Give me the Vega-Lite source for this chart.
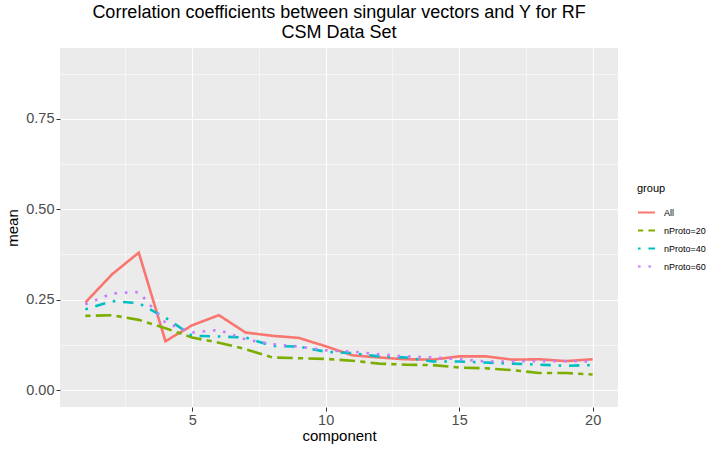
{
  "$schema": "https://vega.github.io/schema/vega-lite/v6.json",
  "autosize": {"type": "none"},
  "padding": {"left": 60, "top": 48, "right": 95, "bottom": 43},
  "width": 558,
  "height": 359,
  "background": "white",
  "title": {
    "text": ["Correlation coefficients between singular vectors and Y for RF", "CSM Data Set"],
    "anchor": "middle",
    "frame": "group",
    "font": "Liberation Sans",
    "fontSize": 18,
    "fontWeight": "normal",
    "lineHeight": 20,
    "color": "black",
    "offset": 6
  },
  "config": {
    "font": "Liberation Sans",
    "view": {"fill": "#EBEBEB", "stroke": null},
    "axis": {
      "domain": false,
      "gridColor": "white",
      "tickColor": "#333333",
      "tickSize": 4,
      "labelColor": "#4D4D4D",
      "labelFontSize": 14.5,
      "titleFontSize": 15,
      "titleFontWeight": "normal",
      "titleColor": "black"
    }
  },
  "data": {
    "values": [
      {"component": 1, "mean": 0.242, "group": "All"},
      {"component": 2, "mean": 0.32, "group": "All"},
      {"component": 3, "mean": 0.38, "group": "All"},
      {"component": 4, "mean": 0.135, "group": "All"},
      {"component": 5, "mean": 0.179, "group": "All"},
      {"component": 6, "mean": 0.207, "group": "All"},
      {"component": 7, "mean": 0.159, "group": "All"},
      {"component": 8, "mean": 0.15, "group": "All"},
      {"component": 9, "mean": 0.144, "group": "All"},
      {"component": 10, "mean": 0.121, "group": "All"},
      {"component": 11, "mean": 0.096, "group": "All"},
      {"component": 12, "mean": 0.09, "group": "All"},
      {"component": 13, "mean": 0.085, "group": "All"},
      {"component": 14, "mean": 0.084, "group": "All"},
      {"component": 15, "mean": 0.093, "group": "All"},
      {"component": 16, "mean": 0.093, "group": "All"},
      {"component": 17, "mean": 0.084, "group": "All"},
      {"component": 18, "mean": 0.085, "group": "All"},
      {"component": 19, "mean": 0.08, "group": "All"},
      {"component": 20, "mean": 0.085, "group": "All"},
      {"component": 1, "mean": 0.205, "group": "nProto=20"},
      {"component": 2, "mean": 0.207, "group": "nProto=20"},
      {"component": 3, "mean": 0.194, "group": "nProto=20"},
      {"component": 4, "mean": 0.171, "group": "nProto=20"},
      {"component": 5, "mean": 0.145, "group": "nProto=20"},
      {"component": 6, "mean": 0.131, "group": "nProto=20"},
      {"component": 7, "mean": 0.113, "group": "nProto=20"},
      {"component": 8, "mean": 0.09, "group": "nProto=20"},
      {"component": 9, "mean": 0.088, "group": "nProto=20"},
      {"component": 10, "mean": 0.086, "group": "nProto=20"},
      {"component": 11, "mean": 0.081, "group": "nProto=20"},
      {"component": 12, "mean": 0.073, "group": "nProto=20"},
      {"component": 13, "mean": 0.07, "group": "nProto=20"},
      {"component": 14, "mean": 0.069, "group": "nProto=20"},
      {"component": 15, "mean": 0.062, "group": "nProto=20"},
      {"component": 16, "mean": 0.06, "group": "nProto=20"},
      {"component": 17, "mean": 0.055, "group": "nProto=20"},
      {"component": 18, "mean": 0.047, "group": "nProto=20"},
      {"component": 19, "mean": 0.047, "group": "nProto=20"},
      {"component": 20, "mean": 0.043, "group": "nProto=20"},
      {"component": 1, "mean": 0.223, "group": "nProto=40"},
      {"component": 2, "mean": 0.246, "group": "nProto=40"},
      {"component": 3, "mean": 0.24, "group": "nProto=40"},
      {"component": 4, "mean": 0.2, "group": "nProto=40"},
      {"component": 5, "mean": 0.15, "group": "nProto=40"},
      {"component": 6, "mean": 0.148, "group": "nProto=40"},
      {"component": 7, "mean": 0.145, "group": "nProto=40"},
      {"component": 8, "mean": 0.122, "group": "nProto=40"},
      {"component": 9, "mean": 0.12, "group": "nProto=40"},
      {"component": 10, "mean": 0.106, "group": "nProto=40"},
      {"component": 11, "mean": 0.102, "group": "nProto=40"},
      {"component": 12, "mean": 0.093, "group": "nProto=40"},
      {"component": 13, "mean": 0.09, "group": "nProto=40"},
      {"component": 14, "mean": 0.079, "group": "nProto=40"},
      {"component": 15, "mean": 0.079, "group": "nProto=40"},
      {"component": 16, "mean": 0.076, "group": "nProto=40"},
      {"component": 17, "mean": 0.073, "group": "nProto=40"},
      {"component": 18, "mean": 0.07, "group": "nProto=40"},
      {"component": 19, "mean": 0.067, "group": "nProto=40"},
      {"component": 20, "mean": 0.069, "group": "nProto=40"},
      {"component": 1, "mean": 0.237, "group": "nProto=60"},
      {"component": 2, "mean": 0.267, "group": "nProto=60"},
      {"component": 3, "mean": 0.271, "group": "nProto=60"},
      {"component": 4, "mean": 0.186, "group": "nProto=60"},
      {"component": 5, "mean": 0.159, "group": "nProto=60"},
      {"component": 6, "mean": 0.166, "group": "nProto=60"},
      {"component": 7, "mean": 0.14, "group": "nProto=60"},
      {"component": 8, "mean": 0.127, "group": "nProto=60"},
      {"component": 9, "mean": 0.12, "group": "nProto=60"},
      {"component": 10, "mean": 0.11, "group": "nProto=60"},
      {"component": 11, "mean": 0.106, "group": "nProto=60"},
      {"component": 12, "mean": 0.099, "group": "nProto=60"},
      {"component": 13, "mean": 0.093, "group": "nProto=60"},
      {"component": 14, "mean": 0.09, "group": "nProto=60"},
      {"component": 15, "mean": 0.085, "group": "nProto=60"},
      {"component": 16, "mean": 0.079, "group": "nProto=60"},
      {"component": 17, "mean": 0.079, "group": "nProto=60"},
      {"component": 18, "mean": 0.08, "group": "nProto=60"},
      {"component": 19, "mean": 0.08, "group": "nProto=60"},
      {"component": 20, "mean": 0.079, "group": "nProto=60"}
    ]
  },
  "mark": {"type": "line", "strokeWidth": 2.6, "strokeCap": "butt"},
  "encoding": {
    "x": {
      "field": "component",
      "type": "quantitative",
      "title": "component",
      "scale": {"domain": [0.05, 20.95], "nice": false, "zero": false},
      "axis": {
        "values": [2.5, 5, 7.5, 10, 12.5, 15, 17.5, 20],
        "format": "d",
        "labelExpr": "datum.value % 5 == 0 ? datum.label : ''",
        "tickOpacity": {"condition": {"test": "datum.value % 5 != 0", "value": 0}, "value": 1},
        "gridWidth": {"condition": {"test": "datum.value % 5 != 0", "value": 0.55}, "value": 1.1},
        "labelPadding": 2,
        "titlePadding": 2
      }
    },
    "y": {
      "field": "mean",
      "type": "quantitative",
      "title": "mean",
      "scale": {"domain": [-0.047, 0.946], "nice": false, "zero": false},
      "axis": {
        "values": [0, 0.125, 0.25, 0.375, 0.5, 0.625, 0.75, 0.875],
        "format": ".2f",
        "labelExpr": "round(datum.value * 8) % 2 == 0 ? datum.label : ''",
        "tickOpacity": {"condition": {"test": "round(datum.value * 8) % 2 != 0", "value": 0}, "value": 1},
        "gridWidth": {"condition": {"test": "round(datum.value * 8) % 2 != 0", "value": 0.55}, "value": 1.1},
        "labelPadding": 2,
        "titlePadding": 5
      }
    },
    "color": {
      "field": "group",
      "type": "nominal",
      "scale": {
        "domain": ["All", "nProto=20", "nProto=40", "nProto=60"],
        "range": ["#F8766D", "#7CAE00", "#00BFC4", "#C77CFF"]
      },
      "legend": {
        "title": "group",
        "orient": "none",
        "legendX": 577,
        "legendY": 135,
        "titleFontSize": 11,
        "titleFontWeight": "normal",
        "titleColor": "black",
        "titlePadding": 9,
        "labelFontSize": 9,
        "labelColor": "black",
        "symbolType": "stroke",
        "symbolSize": 289,
        "symbolStrokeWidth": 2,
        "rowPadding": 3,
        "labelOffset": 8
      }
    },
    "strokeDash": {
      "field": "group",
      "type": "nominal",
      "scale": {
        "domain": ["All", "nProto=20", "nProto=40", "nProto=60"],
        "range": [[1, 0], [5.2, 5.2, 15.6, 5.2], [2.6, 7.8, 10.4, 7.8], [2.6, 7.8]]
      },
      "legend": null
    }
  }
}
